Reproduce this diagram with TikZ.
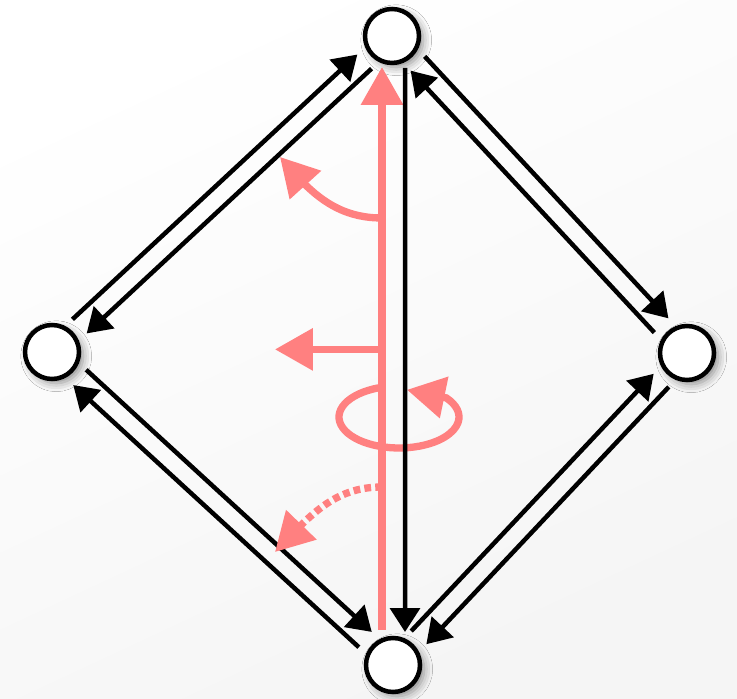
\documentclass[tikz,border=0pt]{standalone}
\usetikzlibrary{arrows.meta, bending, calc, shadows.blur}

\definecolor{salmon}{RGB}{255,128,128}

\begin{document}
\begin{tikzpicture}[
    vertex/.style={circle, draw, line width=3.2pt, fill=white, minimum size=1.35cm, inner sep=0pt,
        blur shadow={shadow xshift=3pt, shadow yshift=-3pt, shadow blur radius=6pt, shadow opacity=45}}, % the four states
    edge/.style={line width=3.2pt, -{Triangle[length=17pt, width=21pt]}, shorten <=0.93cm, shorten >=0.95cm}, % black transitions
    move/.style={line width=5.2pt, salmon, -{Triangle[length=27pt, width=29pt]}} % red symmetry arrows
]

    % Frame and faint background
    \useasboundingbox (0,0) rectangle (18.425,17.475);
    \shade[top color=white, bottom color=black!4, shading angle=25] (0,0) rectangle (18.425,17.475);

    % The four states
    \node[vertex] (t) at (9.8, 16.575) {};
    \node[vertex] (l) at (1.3, 8.675) {};
    \node[vertex] (r) at (17.175, 8.65) {};
    \node[vertex] (b) at (9.825, 0.85) {};

    % Offset of each arrow from the edge line
    \def\gap{0.25cm}

    % Two arrows along every side, one each way
    \foreach \from/\to in {l/t, t/l, t/r, r/t, r/b, b/r, b/l, l/b}
        \draw[edge] ($(\from)!\gap!90:(\to)$) -- ($(\to)!\gap!-90:(\from)$);

    % Points on the red axis
    \coordinate (axis_lo) at ($(b)+(-0.275,0.875)$);
    \coordinate (axis_hi) at ($(t)+(-0.25,-0.775)$);
    \coordinate (turn_from) at (9.55, 12.025);
    \coordinate (turn_to) at (7.0, 13.55);
    \coordinate (push_from) at (9.55, 8.74);
    \coordinate (push_to) at (6.875, 8.74);
    \coordinate (spin) at (9.975, 7.05);
    \coordinate (spin_tip) at ($(spin)+(0.2,0.68)$);
    \coordinate (flip_from) at (9.55, 5.3);
    \coordinate (flip_to) at (6.875, 3.675);

    % Rotation around the axis
    \draw[move] ([shift={(110:1.5 and 0.775)}]spin)
        arc[start angle=110, end angle=398, x radius=1.5, y radius=0.775] -- (spin_tip);

    % Red axis, bottom to top
    \draw[move] (axis_lo) -- (axis_hi);

    % Black transition, top to bottom
    \draw[edge, shorten <=0pt, shorten >=0pt] ($(t)+(0.325,-0.8)$) -- ($(b)+(0.3,0.825)$);

    % Arrows leaving the axis
    \draw[move] (turn_from) to[out=180, in=-50] (turn_to);
    \draw[move] (push_from) -- (push_to);
    \draw[move, dash pattern=on 4.8pt off 3pt] (flip_from) to[out=180, in=46] (flip_to);

\end{tikzpicture}
\end{document}
